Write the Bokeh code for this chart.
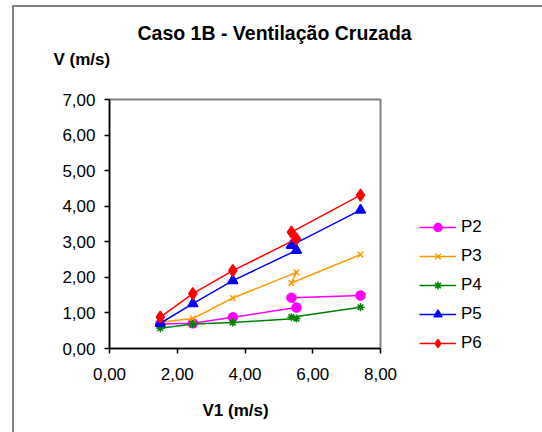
from bokeh.plotting import figure
from bokeh.models import Range1d, Legend, LegendItem, CustomJSTickFormatter, FixedTicker, Title
from bokeh.embed import file_html
from bokeh.resources import INLINE

# Data
v1 = [1.50, 2.46, 3.64, 5.52, 5.37, 7.41]
p2 = [0.69, 0.71, 0.88, 1.15, 1.43, 1.49]
p3 = [0.74, 0.84, 1.42, 2.14, 1.84, 2.64]
p4 = [0.57, 0.69, 0.73, 0.84, 0.88, 1.16]
p5 = [0.71, 1.26, 1.91, 2.76, 2.90, 3.89]
p6 = [0.88, 1.54, 2.19, 3.08, 3.27, 4.31]
series_names = ["P2", "P3", "P4", "P5", "P6"]
x_ticks = [0, 2, 4, 6, 8]
y_ticks = [0, 1, 2, 3, 4, 5, 6, 7]
title_text = "Caso 1B - Ventilação Cruzada"
y_title = "V (m/s)"
x_title = "V1 (m/s)"

FONT = "Liberation Sans"

p = figure(width=520, height=412, output_backend="svg", toolbar_location=None,
           x_range=Range1d(0, 8), y_range=Range1d(0, 7),
           frame_width=271, frame_height=249,
           min_border_left=95, min_border_top=92, min_border_right=154, min_border_bottom=74)
p.margin = (5, 0, 0, 12)
p.styles = {"border-left": "2px solid #808080", "border-top": "2px solid #808080"}
p.xgrid.visible = False
p.ygrid.visible = False
p.outline_line_color = "#808080"
p.outline_line_width = 2
p.background_fill_color = "white"
p.border_fill_color = "white"

fmt = CustomJSTickFormatter(code="return tick.toFixed(2).replace('.', ',');")
for ax, ticks in ((p.xaxis[0], x_ticks), (p.yaxis[0], y_ticks)):
    ax.ticker = FixedTicker(ticks=ticks)
    ax.formatter = fmt
    ax.axis_line_color = "black"
    ax.axis_line_width = 1.5
    ax.major_tick_line_color = "black"
    ax.major_tick_line_width = 1.5
    ax.major_tick_out = 5
    ax.major_tick_in = 0
    ax.minor_tick_line_color = None
    ax.major_label_text_font = FONT
    ax.major_label_text_font_size = "17px"
    ax.major_label_text_color = "black"
p.xaxis[0].major_label_standoff = 14
p.yaxis[0].major_label_standoff = 9

styles = [
    (p2, "#FF00FF", "circle", 9),
    (p3, "#FF9900", "x", 8),
    (p4, "#008000", "asterisk", 8),
    (p5, "#0000FF", "triangle", 10),
    (p6, "#FF0000", "diamond", 12),
]
items = []
for name, (ys, col, mk, sz) in zip(series_names, styles):
    l = p.line(v1, ys, line_color=col, line_width=1.5)
    m = p.scatter(v1, ys, marker=mk, size=sz, line_color=col, fill_color=col, line_width=1.5)
    items.append(LegendItem(label=name, renderers=[l, m]))

legend = Legend(items=items, location=(39, -5), orientation="vertical",
                glyph_width=37, glyph_height=20, label_height=20, spacing=9,
                label_standoff=5, padding=0, margin=0, border_line_color=None,
                background_fill_alpha=0, label_text_font=FONT, label_text_font_size="17px",
                label_text_color="black")
p.add_layout(legend, "right")

# main title (outermost)
p.title.text = title_text
p.title.align = "left"
p.title.offset = 28
p.title.standoff = -54
p.title.text_font = FONT
p.title.text_font_size = "19.5px"
p.title.text_font_style = "bold"
p.title.text_color = "black"

# y-axis title above the y axis
y_lab = Title(text=y_title, align="left", offset=-56, standoff=62,
              text_font=FONT, text_font_size="17px", text_font_style="bold",
              text_color="black")
p.add_layout(y_lab, "above")

x_lab = Title(text=x_title, align="left", offset=93, standoff=32,
              text_font=FONT, text_font_size="17px", text_font_style="bold",
              text_color="black")
p.add_layout(x_lab, "below")

open("out.html", "w").write(file_html(p, INLINE))
